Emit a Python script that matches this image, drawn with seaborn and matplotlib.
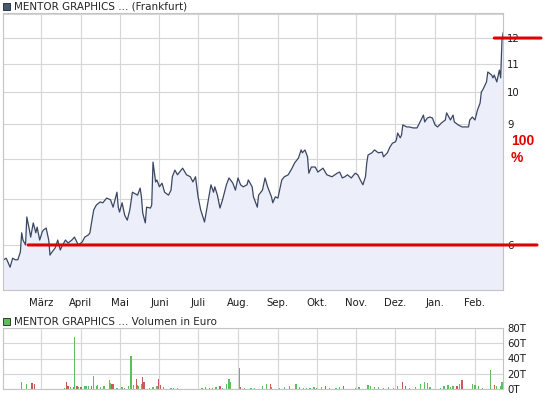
import pandas as pd
import matplotlib
matplotlib.use("Agg")
import matplotlib.pyplot as plt
import matplotlib.ticker as mticker
from matplotlib.patches import Patch
import seaborn as sns


# Data (days counted from 1 March)
start = pd.Timestamp("2006-03-01")

price_day = [-29, -27, -24, -22, -20, -18, -16, -15, -14, -12, -11, -9, -8, -6, -4, -3, -1,
             1, 2, 4, 6, 7, 8, 11, 13, 15, 16, 19, 21, 24, 26, 29, 32, 34, 37,
             38, 40, 41, 43, 46, 48, 51, 54, 56, 59, 60, 61, 63, 65, 67, 69, 71, 75, 77, 78,
             79, 81, 82, 85, 86, 87, 89, 90, 92, 94, 96, 99, 101, 102, 104,
             106, 110, 113, 116, 118, 120, 122, 124, 126, 127, 130, 132, 134, 135, 137, 139,
             141, 144, 146, 149, 151, 153, 155, 157, 160, 161, 164, 165, 168, 169,
             172, 174, 176, 179, 180, 182, 184, 187, 189, 192, 195, 197, 200, 202, 203, 205,
             207, 208, 210, 213, 215, 219, 222, 226, 230, 232, 234,
             236, 238, 241, 244, 246, 248, 250, 252, 253, 254, 257, 259, 262, 265, 266, 269,
             271, 273, 275, 276, 277, 279, 280, 281, 284, 286, 289, 292, 294, 297, 298, 300, 302,
             304, 306, 308, 311, 314, 315, 318, 320, 321, 324, 327, 329, 332, 333, 335, 337,
             339, 341, 342, 343, 346, 347, 350, 351, 352, 354, 356, 357, 358, 359]
price_eur = [5.71, 5.74, 5.57, 5.74, 5.71, 5.71, 5.86, 6.25, 6.10, 6.00, 6.59, 6.31, 6.16, 6.46, 6.25, 6.37, 6.10,
             6.27, 6.31, 6.35, 6.10, 5.80, 5.84, 5.94, 6.10, 5.90, 5.96, 6.10, 6.04, 6.10, 6.16, 6.00, 6.06, 6.16, 6.21,
             6.25, 6.59, 6.75, 6.86, 6.93, 6.91, 7.02, 6.98, 6.81, 7.16, 6.81, 6.70, 6.91, 6.63, 6.52, 6.75, 7.16, 7.09, 7.26, 7.05,
             6.68, 6.46, 6.81, 6.79, 6.86, 7.92, 7.41, 7.46, 7.29, 7.38, 7.16, 7.09, 7.21, 7.54, 7.71,
             7.59, 7.76, 7.59, 7.54, 7.41, 7.54, 7.05, 6.75, 6.57, 6.48, 6.98, 7.34, 7.16, 7.29, 7.09, 6.79,
             6.98, 7.34, 7.51, 7.38, 7.21, 7.51, 7.34, 7.29, 7.34, 7.46, 7.29, 7.05, 6.81, 7.09,
             7.21, 7.51, 7.29, 7.05, 6.91, 7.05, 7.02, 7.46, 7.54, 7.59, 7.76, 7.90, 8.03, 8.25, 8.17, 8.25,
             8.06, 7.63, 7.79, 7.79, 7.66, 7.76, 7.59, 7.54, 7.63, 7.66, 7.51,
             7.54, 7.59, 7.51, 7.63, 7.59, 7.46, 7.34, 7.54, 7.90, 8.11, 8.17, 8.25, 8.17, 8.19, 8.06, 8.17,
             8.33, 8.44, 8.47, 8.53, 8.73, 8.59, 8.67, 8.97, 8.91, 8.91, 8.88, 8.88, 9.03, 9.27, 9.06, 9.18, 9.21,
             9.18, 8.97, 8.91, 9.03, 9.12, 9.34, 9.12, 9.27, 9.06, 8.97, 8.91, 8.91, 8.91, 9.12, 9.21, 9.12,
             9.43, 9.65, 10.02, 10.08, 10.36, 10.71, 10.60, 10.50, 10.60, 10.36, 10.78, 10.50, 11.92, 12.24]

vol_day = [-15, -11, -7, -5, 18, 20, 21, 23, 25, 26, 28, 29, 31, 34, 35, 37, 39, 41, 43, 44, 46, 49,
           53, 54, 55, 56, 59, 63, 65, 68, 70, 72, 74, 75, 76, 78, 79, 80, 84, 87, 90, 91, 93, 95,
           101, 103, 106, 125, 128, 131, 133, 136, 139, 141, 144, 146, 147, 154, 155, 158, 163, 166,
           172, 175, 178, 179, 185, 189, 193, 198, 201, 204, 206, 209, 212, 214, 218, 221, 224, 229,
           232, 235, 244, 247, 254, 256, 259, 262, 266, 270, 274, 277, 281, 283, 286, 291, 295, 298,
           300, 302, 310, 313, 316, 318, 320, 323, 325, 327, 335, 337, 340, 343, 349, 352, 354, 357, 358]
vol_teur = [8.9, 6.2, 8.0, 7.1, 1.3, 9.8, 3.6, 2.7, 2.2, 68.0, 4.4, 2.2, 2.7, 4.4, 3.6, 4.4, 3.6, 16.9, 4.4, 5.3, 2.2, 3.6,
            12.4, 8.0, 6.2, 7.1, 1.3, 2.2, 1.3, 3.6, 43.6, 5.3, 13.3, 5.3, 4.4, 6.2, 15.1, 9.8, 1.8, 2.2, 3.6, 13.3, 5.3, 2.2,
            1.3, 1.3, 1.3, 1.3, 2.2, 1.8, 1.8, 2.7, 4.4, 1.8, 6.2, 13.3, 8.9, 28.0, 2.7, 1.3, 1.3, 1.3,
            3.6, 6.2, 7.1, 2.7, 1.8, 2.7, 3.6, 6.2, 2.7, 1.8, 1.3, 1.8, 2.2, 1.8, 2.2, 3.6, 1.8, 1.3,
            2.7, 4.4, 1.3, 2.2, 5.3, 3.6, 2.7, 2.2, 1.8, 2.7, 1.8, 4.4, 9.8, 3.6, 1.8, 2.2, 6.2, 8.9,
            8.0, 2.7, 1.8, 3.6, 5.3, 2.2, 3.6, 4.4, 6.2, 12.4, 6.2, 5.3, 3.6, 1.8, 24.4, 5.3, 4.4, 3.6, 9.8]
# 1 = closing up (green), 0 = closing down (red)
vol_up = [1, 1, 0, 0, 1, 0, 0, 1, 0, 1, 0, 1, 0, 1, 1, 1, 0, 1, 1, 1, 1, 1,
          1, 1, 0, 0, 1, 1, 1, 1, 1, 1, 0, 1, 1, 1, 0, 0, 1, 1, 1, 0, 0, 1,
          1, 1, 1, 1, 1, 1, 1, 1, 0, 1, 1, 1, 1, 1, 0, 1, 1, 1,
          1, 1, 0, 1, 1, 1, 1, 1, 1, 1, 1, 1, 1, 1, 1, 0, 1, 1,
          1, 0, 1, 1, 1, 1, 1, 1, 1, 1, 1, 1, 0, 0, 1, 1, 1, 1,
          1, 1, 1, 1, 1, 1, 1, 0, 1, 0, 1, 1, 1, 1, 1, 0, 1, 1, 1]

month_names = ["März", "April", "Mai", "Juni", "Juli", "Aug.", "Sep.", "Okt.", "Nov.", "Dez.", "Jan.", "Feb."]
price_ticks = [6, 9, 10, 11, 12]
price_grid_only = [7, 8, 13]
vol_ticks = [0, 20, 40, 60, 80]
ref_low, ref_high = 6, 12
ref_low_day, ref_high_day = -10, 352
gain_text = "100\n%"

name_price = "MENTOR GRAPHICS ... (Frankfurt)"
name_vol = "MENTOR GRAPHICS ... Volumen in Euro"

# Build frames
df = pd.DataFrame({"date": start + pd.to_timedelta(price_day, unit="D"), "price": price_eur})
vol = pd.DataFrame({"date": start + pd.to_timedelta(vol_day, unit="D"), "teur": vol_teur, "up": vol_up})
months = pd.date_range(start, periods=len(month_names), freq="MS")
x_lo = start + pd.Timedelta(days=-29.5)
x_hi = start + pd.Timedelta(days=358.8)

sns.set_style("white")
plt.rcParams["font.family"] = ["DejaVu Sans"]

grid_col = "#d6d6d6"
frame_col = "#c4c4c4"
line_col = "#3a4663"
fill_col = "#eceff9"
green = "#5cbf5c"
red = "#c85a5a"
text_col = "#1a1a1a"

fig = plt.figure(figsize=(5.45, 3.98), dpi=100)
ax = fig.add_axes([3 / 545, 108 / 398, 500 / 545, 277 / 398])
axv = fig.add_axes([3 / 545, 9 / 398, 500 / 545, 61 / 398])

# Price chart
ax.set_yscale("log")
ax.fill_between(df["date"], df["price"], 4.0, color=fill_col, lw=0)
sns.lineplot(data=df, x="date", y="price", ax=ax, color=line_col, lw=0.9)
ax.set_ylim(5.16, 13.05)
ax.set_xlim(x_lo, x_hi)
ax.yaxis.tick_right()
ax.set_yticks(price_ticks)
ax.set_yticklabels([str(v) for v in price_ticks])
ax.yaxis.set_minor_locator(mticker.FixedLocator(price_grid_only))
ax.yaxis.set_minor_formatter(mticker.NullFormatter())
ax.set_xticks(months)
ax.set_xticklabels(month_names)
ax.grid(True, which="both", color=grid_col, lw=0.8)
ax.tick_params(which="both", length=0, labelsize=7.3, colors=text_col)
ax.tick_params(axis="y", pad=3)
ax.tick_params(axis="x", pad=6)
ax.set_xlabel("")
ax.set_ylabel("")
for s in ax.spines.values():
    s.set_color(frame_col)
    s.set_linewidth(0.8)

# Red reference lines (low -> high = +100 %)
ax.annotate("", xy=(1.068, ref_low), xycoords=("axes fraction", "data"),
            xytext=(start + pd.Timedelta(days=ref_low_day), ref_low), textcoords="data",
            arrowprops=dict(arrowstyle="-", color="#e00000", lw=2.2, shrinkA=0, shrinkB=0))
ax.annotate("", xy=(1.076, ref_high), xycoords=("axes fraction", "data"),
            xytext=(start + pd.Timedelta(days=ref_high_day), ref_high), textcoords="data",
            arrowprops=dict(arrowstyle="-", color="#e00000", lw=2.2, shrinkA=0, shrinkB=0))
ax.text(1.016, 8.26, gain_text, transform=ax.get_yaxis_transform(), color="#e00000",
        fontsize=10, fontweight="bold", family="Liberation Sans",
        ha="left", va="center", linespacing=1.25)

ax.legend(handles=[Patch(facecolor="#4a5878", edgecolor="#222222", lw=0.6, label=name_price)],
          loc="lower left", bbox_to_anchor=(-0.002, 1.0), frameon=False, fontsize=7.5,
          handlelength=0.7, handleheight=0.7, handletextpad=0.4, borderpad=0, borderaxespad=0.1)

# Volume chart
axv.bar(vol["date"], vol["teur"], width=1.0, lw=0,
        color=[green if u else red for u in vol["up"]])
axv.set_xlim(x_lo, x_hi)
axv.set_ylim(0, 80)
axv.yaxis.tick_right()
axv.set_yticks(vol_ticks)
axv.set_yticklabels([f"{v}T" for v in vol_ticks])
axv.set_xticks(months)
axv.set_xticklabels([])
axv.grid(True, color=grid_col, lw=0.8)
axv.tick_params(length=0, labelsize=7.3, colors=text_col, pad=3)
for s in axv.spines.values():
    s.set_color(frame_col)
    s.set_linewidth(0.8)
axv.legend(handles=[Patch(facecolor=green, edgecolor="#222222", lw=0.6, label=name_vol)],
           loc="lower left", bbox_to_anchor=(-0.002, 1.0), frameon=False, fontsize=7.5,
           handlelength=0.7, handleheight=0.7, handletextpad=0.4, borderpad=0, borderaxespad=0.1)

fig.savefig("out.png", dpi=100)
